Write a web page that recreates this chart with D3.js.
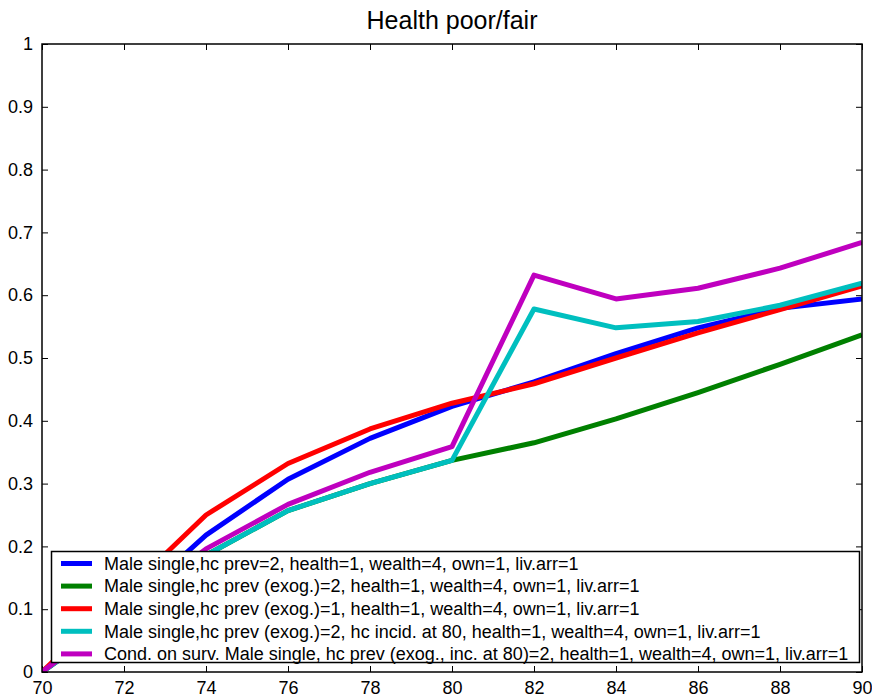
<!DOCTYPE html>
<html>
<head>
<meta charset="utf-8">
<script src="https://cdn.jsdelivr.net/npm/d3@7"></script>
<style>
body { margin: 0; background: #fff; }
svg text { font-family: "Liberation Sans", Arial, sans-serif; fill: #000; }
</style>
</head>
<body>
<div id="chart"></div>
<script>
var ages = [70, 72, 74, 76, 78, 80, 82, 84, 86, 88, 90];
var blueVals    = [0, 0.10, 0.218, 0.307, 0.372, 0.423, 0.462, 0.507, 0.548, 0.579, 0.594];
var greenVals   = [0, 0.092, 0.186, 0.257, 0.300, 0.337, 0.365, 0.403, 0.445, 0.490, 0.537];
var redVals     = [0, 0.125, 0.250, 0.332, 0.387, 0.428, 0.459, 0.500, 0.540, 0.577, 0.615];
var cyanVals    = [0, 0.092, 0.186, 0.257, 0.300, 0.337, 0.578, 0.548, 0.558, 0.584, 0.619];
var magentaVals = [0, 0.098, 0.196, 0.267, 0.318, 0.359, 0.632, 0.594, 0.611, 0.643, 0.684];
var labels = [
	'Male single,hc prev=2, health=1, wealth=4, own=1, liv.arr=1',
	'Male single,hc prev (exog.)=2, health=1, wealth=4, own=1, liv.arr=1',
	'Male single,hc prev (exog.)=1, health=1, wealth=4, own=1, liv.arr=1',
	'Male single,hc prev (exog.)=2, hc incid. at 80, health=1, wealth=4, own=1, liv.arr=1',
	'Cond. on surv. Male single, hc prev (exog., inc. at 80)=2, health=1, wealth=4, own=1, liv.arr=1'
];
var colors = ['#0000ff', '#008000', '#ff0000', '#00bfbf', '#bf00bf'];
var xTicks = [70, 72, 74, 76, 78, 80, 82, 84, 86, 88, 90];
var yTicks = [0, 0.1, 0.2, 0.3, 0.4, 0.5, 0.6, 0.7, 0.8, 0.9, 1];

var series = [blueVals, greenVals, redVals, cyanVals, magentaVals];

var W = 872, H = 698;
var pl = 42, pr = 862, pt = 44, pb = 672;

var svg = d3.select('#chart').append('svg')
	.attr('width', W)
	.attr('height', H);

var x = d3.scaleLinear().domain([70, 90]).range([pl, pr]);
var y = d3.scaleLinear().domain([0, 1]).range([pb, pt]);

svg.append('defs').append('clipPath').attr('id', 'clip')
	.append('rect').attr('x', pl).attr('y', pt).attr('width', pr - pl).attr('height', pb - pt);

var fmt = function(d) { return d === 0 || d === 1 ? String(d) : d3.format('.1f')(d); };

// axes, ticks pointing inward
svg.append('g').attr('class', 'ax').attr('transform', 'translate(0,' + pb + ')')
	.call(d3.axisBottom(x).tickValues(xTicks).tickSizeInner(-6).tickSizeOuter(0).tickPadding(9));
svg.append('g').attr('transform', 'translate(0,' + pt + ')')
	.call(d3.axisTop(x).tickValues(xTicks).tickSizeInner(-6).tickSizeOuter(0).tickFormat(''));
svg.append('g').attr('class', 'ax').attr('transform', 'translate(' + pl + ',0)')
	.call(d3.axisLeft(y).tickValues(yTicks).tickFormat(fmt).tickSizeInner(-6).tickSizeOuter(0).tickPadding(9));
svg.append('g').attr('transform', 'translate(' + pr + ',0)')
	.call(d3.axisRight(y).tickValues(yTicks).tickSizeInner(-6).tickSizeOuter(0).tickFormat(''));

svg.selectAll('.domain').remove();
svg.selectAll('.tick line').attr('stroke', '#000');
svg.selectAll('.ax .tick text').style('font-size', '18px').attr('font-family', null);

var line = d3.line()
	.x(function(d, i) { return x(ages[i]); })
	.y(function(d) { return y(d); });

svg.append('g').attr('clip-path', 'url(#clip)')
	.selectAll('path')
	.data(series)
	.enter().append('path')
	.attr('d', line)
	.attr('fill', 'none')
	.attr('stroke', function(d, i) { return colors[i]; })
	.attr('stroke-width', 5)
	.attr('stroke-linejoin', 'round');

svg.append('rect')
	.attr('x', pl).attr('y', pt)
	.attr('width', pr - pl).attr('height', pb - pt)
	.attr('fill', 'none').attr('stroke', '#000').attr('stroke-width', 1.5);

svg.append('text')
	.attr('x', (pl + pr) / 2).attr('y', 29)
	.attr('text-anchor', 'middle')
	.style('font-size', '25px')
	.text('Health poor/fair');

// legend
var lg = svg.append('g');
lg.append('rect')
	.attr('x', 51.5).attr('y', 551.5)
	.attr('width', 808).attr('height', 111)
	.attr('fill', '#fff').attr('stroke', '#000').attr('stroke-width', 1.5);

var rows = lg.selectAll('g.row').data(labels).enter().append('g')
	.attr('transform', function(d, i) { return 'translate(0,' + (563.5 + i * 22.6) + ')'; });
rows.append('line')
	.attr('x1', 61).attr('x2', 92)
	.attr('stroke', function(d, i) { return colors[i]; })
	.attr('stroke-width', 5);
rows.append('text')
	.attr('x', 104).attr('dy', '0.35em')
	.style('font-size', '18px')
	.text(function(d) { return d; });
</script>
</body>
</html>
